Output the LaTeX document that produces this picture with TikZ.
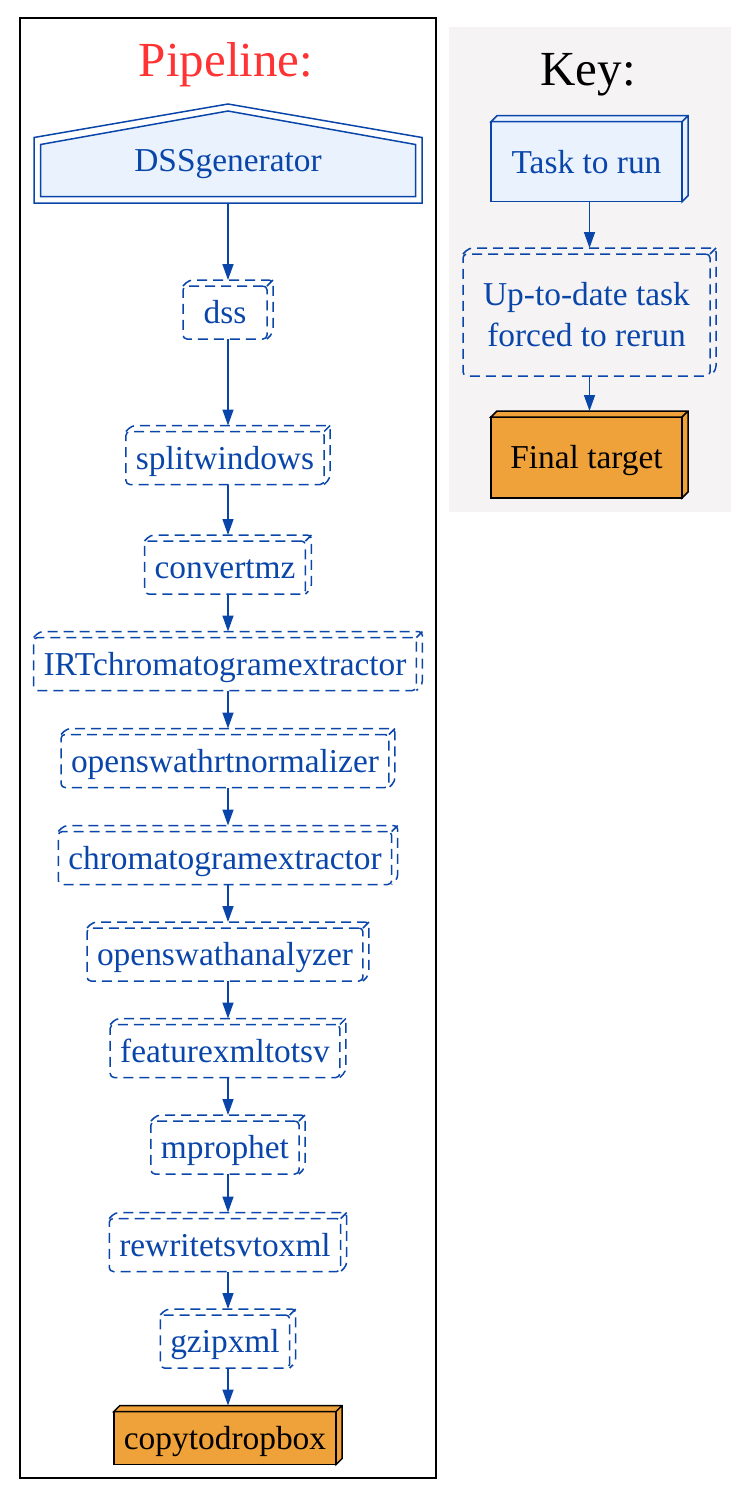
\documentclass[tikz,border=0pt]{standalone}
\usepackage{fontspec}
\setmainfont{Liberation Serif}
\usetikzlibrary{arrows.meta,calc}
\definecolor{taskblue}{RGB}{10,70,170}
\definecolor{taskfill}{RGB}{234,242,253}
\definecolor{targetorange}{RGB}{240,162,58}
\definecolor{titlered}{RGB}{255,51,51}
\definecolor{keygray}{RGB}{245,243,244}

\begin{document}
\begin{tikzpicture}[x=0.5pt,y=-0.5pt,
  lbl/.style={font=\fontsize{16.7}{20.5}\selectfont,outer sep=0pt,line width=0.75pt},
  oneline/.style={text height=11.4pt,text depth=0pt},
  rerun/.style={lbl,draw=taskblue,text=taskblue,dash pattern=on 5pt off 3pt,
    rounded corners=2pt,inner xsep=5pt,minimum height=26.5pt,minimum width=42pt},
  torun/.style={lbl,oneline,draw=taskblue,fill=taskfill,text=taskblue,
    minimum width=95.5pt,minimum height=40pt},
  target/.style={lbl,oneline,draw=black,fill=targetorange,inner xsep=5pt,minimum height=26.5pt},
  flow/.style={taskblue,line width=0.75pt,-{Triangle[length=8pt,width=5.5pt]}},
  title/.style={font=\fontsize{24.5}{28}\selectfont,anchor=base}]
  \useasboundingbox (0,0) rectangle (750,1500);

  % Frames
  \draw[black,line width=0.6pt] (20,18) rectangle (436,1478);
  \fill[keygray] (449,27) rectangle (731,512);
  \node[title,text=titlered] (pipetitle) at (226,76) {Pipeline:};
  \node[title] (keytitle) at (588,85) {Key:};

  % Source task (double house)
  \draw[taskblue,line width=0.75pt] (34,203) -- (34,137.5) -- (228,104) -- (422,137.5) -- (422,203) -- cycle;
  \draw[taskblue,fill=taskfill,line width=0.75pt] (40.5,196.5) -- (40.5,144.5) -- (228,111) -- (415.5,144.5) -- (415.5,196.5) -- cycle;
  \node[lbl,oneline,text=taskblue] (gen) at (228,160.5) {DSSgenerator};
  \coordinate (genfoot) at (228,203);

  % Pipeline tasks
  \foreach \n/\t/\y in {dss/dss/312.5, split/splitwindows/458, convert/convertmz/567.5,
    irt/IRTchromatogramextractor/664, rtnorm/openswathrtnormalizer/761,
    chromext/chromatogramextractor/858, swath/openswathanalyzer/954.5,
    fxml/featurexmltotsv/1051, mproph/mprophet/1147.5, rewrite/rewritetsvtoxml/1245,
    gzip/gzipxml/1341.5}
    {\node[rerun,oneline] (\n) at (225,\y) {\t};}
  \node[target] (copy) at (225,1438) {copytodropbox};

  % Key tasks
  \node[torun] (task) at (586.5,161.7) {Task to run};
  \node[rerun,align=center,minimum width=123.5pt,minimum height=61pt] (uptodate) at (586.5,315)
    {Up-to-date task\\forced to rerun};
  \node[torun,draw=black,fill=targetorange,text=black,minimum height=40.5pt] (final) at (586.5,457.5)
    {Final target};

  % Back faces
  \foreach \n in {dss,split,convert,irt,rtnorm,chromext,swath,fxml,mproph,rewrite,gzip,uptodate}
    {\draw[taskblue,line width=0.75pt,dash pattern=on 5pt off 3pt,rounded corners=2pt]
      (\n.north west) -- ++(3pt,3pt) -- ([shift={(3pt,3pt)}]\n.north east)
      -- ([shift={(3pt,3pt)}]\n.south east) -- (\n.south east)
      (\n.north east) -- ++(3pt,3pt);}
  \foreach \n/\f/\d in {task/taskfill/taskblue, final/targetorange/black, copy/targetorange/black}
    {\draw[draw=\d,fill=\f,line width=0.75pt]
      (\n.north west) -- ++(3pt,3pt) -- ([shift={(3pt,3pt)}]\n.north east)
      -- ([shift={(3pt,3pt)}]\n.south east) -- (\n.south east) -- (\n.north east) -- cycle
      (\n.north east) -- ++(3pt,3pt);}

  % Edges
  \draw[flow] (genfoot) -- ([shift={(1.5pt,3pt)}]dss.north);
  \foreach \a/\b in {dss/split,split/convert,convert/irt,irt/rtnorm,rtnorm/chromext,
    chromext/swath,swath/fxml,fxml/mproph,mproph/rewrite,rewrite/gzip,gzip/copy,
    task/uptodate,uptodate/final}
    {\draw[flow] ([xshift=1.5pt]\a.south) -- ([shift={(1.5pt,3pt)}]\b.north);}
\end{tikzpicture}
\end{document}
